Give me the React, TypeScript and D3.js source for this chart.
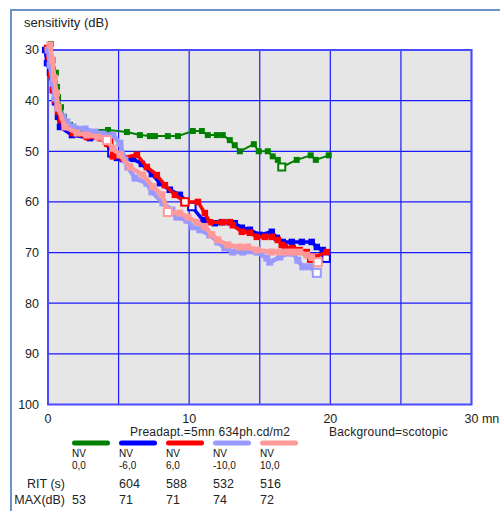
import * as d3 from 'd3';

// [minutes, dB, hollow]
type Pt = [number, number, number];

const greenPts: Pt[] = [
  [0.2, 28.8, 0], [0.35, 32, 0], [0.56, 34.5, 0], [0.64, 37.3, 0], [0.71, 39.3, 0], [0.92, 41.3, 0],
  [1.13, 43.2, 0], [1.56, 44.8, 0], [2.26, 45.8, 0], [4.25, 45.8, 0], [5.59, 46.2, 0], [6.51, 46.8, 0],
  [7.22, 47, 0], [7.57, 47, 0], [8.49, 47, 0], [9.2, 47, 0], [10.26, 46, 0], [10.9, 46, 0],
  [11.32, 46.8, 0], [11.96, 46.8, 0], [12.38, 46.8, 0], [12.88, 47.8, 0], [13.23, 48.8, 0], [13.59, 50, 0],
  [14.58, 48.6, 0], [14.93, 50, 0], [15.57, 50, 0], [15.92, 51, 0], [16.28, 51.7, 0], [16.56, 53.1, 1],
  [17.62, 51.7, 0], [18.61, 50.8, 0], [18.97, 51.7, 0], [19.89, 50.8, 0],
];

const bluePts: Pt[] = [
  [-0.2, 30, 0], [-0.07, 32.6, 0], [0.14, 34.5, 0], [0.35, 37.9, 0], [0.5, 40.3, 0], [0.71, 43.2, 0],
  [0.85, 45.2, 0], [1.7, 46.8, 0], [2.97, 47.4, 0], [3.89, 47.4, 0], [4.53, 50.3, 1], [4.88, 51.3, 0],
  [5.31, 51.5, 0], [6.02, 51.5, 0], [6.65, 52.5, 0], [7.36, 54.5, 0], [7.93, 56.3, 0], [8.63, 57.6, 0],
  [9.34, 58.6, 0], [10.19, 60.9, 1], [10.97, 63.6, 0], [11.82, 64.2, 0], [12.31, 64, 0], [12.88, 64, 0],
  [13.23, 64.2, 0], [13.73, 65.1, 0], [14.3, 65.5, 0], [15.0, 66.5, 0], [15.85, 65.9, 0], [16.21, 67.1, 0],
  [16.63, 67.9, 0], [17.27, 67.9, 0], [17.98, 67.9, 0], [18.68, 67.9, 0], [19.04, 68.9, 0], [19.46, 69.5, 0],
  [19.7, 71.1, 1],
];

const redPts: Pt[] = [
  [-0.07, 29.6, 0], [0.07, 31.4, 0], [0.21, 34.9, 0], [0.35, 37.9, 0], [0.5, 39.9, 0], [0.71, 42.2, 0],
  [0.92, 43.8, 0], [1.13, 44.6, 0], [1.77, 46.4, 0], [2.76, 47.2, 0], [3.68, 47.4, 0], [4.3, 48.2, 1],
  [4.6, 51, 0], [5.31, 51.3, 0], [6.3, 50.7, 0], [7.0, 53.1, 0], [7.71, 54.7, 0], [8.28, 56.7, 0],
  [8.99, 58.6, 0], [9.7, 60, 1], [10.62, 60, 0], [11.11, 62.2, 0], [11.46, 64, 0], [12.38, 64, 0],
  [12.88, 64, 0], [13.09, 64.6, 0], [13.73, 65.9, 0], [14.3, 66.1, 0], [14.79, 66.9, 0], [15.36, 66.9, 0],
  [15.85, 66.9, 0], [16.28, 67.5, 0], [16.56, 68.5, 0], [16.77, 68.9, 0], [17.34, 69.1, 0], [17.83, 69.5, 0],
  [18.33, 69.9, 0], [18.68, 71.1, 1], [19.75, 69.9, 0],
];

const lavenderPts: Pt[] = [
  [0, 30, 0], [0.14, 33, 0], [0.35, 36.5, 0], [0.5, 39.5, 0], [0.71, 41.5, 0], [1.06, 43.2, 0],
  [1.34, 44.2, 0], [1.77, 45.2, 0], [2.62, 45.6, 0], [3.33, 46.2, 0], [3.89, 46.6, 0], [4.6, 46.8, 0],
  [5.1, 48.4, 0], [5.45, 51.7, 0], [5.66, 53.1, 0], [6.16, 55.3, 0], [7.0, 56.3, 0], [7.36, 58.0, 0],
  [8.14, 60.2, 0], [8.78, 61.6, 0], [9.13, 63, 0], [9.84, 63.6, 0], [10.26, 64.9, 0], [10.76, 65.5, 0],
  [11.46, 66.5, 0], [12.03, 67.9, 0], [12.53, 69.1, 0], [13.09, 69.9, 0], [13.8, 69.9, 0], [14.79, 69.9, 0],
  [15.5, 71.1, 0], [15.71, 71.9, 0], [16.42, 70.9, 0], [16.99, 70.1, 0], [17.34, 70.1, 0], [17.69, 71.5, 0],
  [18.05, 72.8, 0], [18.54, 72.8, 0], [19.04, 74, 1],
];

const pinkPts: Pt[] = [
  [0.14, 29, 0], [0.3, 32, 0], [0.45, 35.5, 0], [0.6, 38.5, 0], [0.71, 41.3, 0], [1.2, 45.2, 0],
  [2.05, 46.4, 0], [2.76, 46.8, 0], [3.54, 47.2, 0], [4.18, 47.8, 1], [4.6, 49.4, 0], [5.1, 50.7, 0],
  [5.8, 53.1, 0], [6.72, 54.7, 0], [7.43, 57.0, 0], [8.07, 58.6, 0], [8.49, 62.0, 1], [9.34, 62.2, 0],
  [9.91, 63, 0], [10.54, 64, 0], [11.11, 64.9, 0], [11.61, 66.5, 0], [12.03, 67.5, 0], [12.74, 68.5, 0],
  [13.59, 68.9, 0], [14.15, 68.9, 0], [14.79, 69.5, 0], [15.85, 69.9, 0], [16.42, 69.9, 0], [16.91, 69.9, 0],
  [17.34, 69.9, 0], [17.83, 69.9, 0], [18.33, 70.5, 0], [18.68, 70.9, 0], [19.11, 71.9, 1],
];

const seriesNames = ['NV', 'NV', 'NV', 'NV', 'NV'];
const seriesShifts = ['0,0', '-6,0', '6,0', '-10,0', '10,0'];
const seriesColors = ['#008000', '#0000ff', '#ff0000', '#9999ff', '#ff9999'];
const ritValues = ['', '604', '588', '532', '516'];
const maxValues = ['53', '71', '71', '74', '72'];
const allSeries = [greenPts, bluePts, redPts, lavenderPts, pinkPts];

const yTicks = [30, 40, 50, 60, 70, 80, 90, 100];
const xGrid = [0, 5, 10, 15, 20, 25, 30];
const xTicks = [0, 10, 20, 30];

const font = '"Liberation Sans", Arial, sans-serif';

export default function App() {
  const x = d3.scaleLinear().domain([0, 30]).range([48, 471.5]);
  const y = d3.scaleLinear().domain([30, 100]).range([50, 404.5]);
  const line = d3.line<Pt>().x(d => x(d[0])).y(d => y(d[1]));

  const lineW = [2, 3.5, 3.5, 4.5, 4.5];
  const markW = [6, 6.5, 6.5, 7, 7];
  // draw order: green, blue, red, lavender, pink
  const order = [0, 1, 2, 3, 4];

  const legendX = (i: number) => 72 + i * 47;

  return (
    <svg width={500} height={511} style={{ position: 'absolute', left: 0, top: 0, background: '#fff' }}
      fontFamily={font}>
      <rect x={11} y={10} width={600} height={600} fill="none" stroke="#6a93cc" strokeWidth={2} />
      <text x={24} y={27} fontSize={13} fill="#222">sensitivity (dB)</text>

      {/* plot area */}
      <rect x={x(0)} y={y(30)} width={x(30) - x(0)} height={y(100) - y(30)} fill="#e6e6e6" />
      {yTicks.map(t => (
        <line key={'gy' + t} x1={x(0)} x2={x(30)} y1={y(t)} y2={y(t)} stroke="#1a1aff" strokeWidth={1.2} />
      ))}
      {xGrid.map(t => (
        <line key={'gx' + t} x1={x(t)} x2={x(t)} y1={y(30)} y2={y(100)} stroke="#1a1aff" strokeWidth={1.2} />
      ))}
      <rect x={x(0)} y={y(30)} width={x(30) - x(0)} height={y(100) - y(30)} fill="none"
        stroke="#4a4aff" strokeWidth={2} />

      {yTicks.map(t => (
        <text key={'ty' + t} x={39} y={y(t)} dy="0.35em" textAnchor="end" fontSize={12.5} fill="#222">{t}</text>
      ))}
      {xTicks.map(t => (
        t === 30
          ? <text key={'tx' + t} x={x(t) - 7} y={423} fontSize={12.5} fill="#222">30 mn</text>
          : <text key={'tx' + t} x={x(t)} y={423} textAnchor="middle" fontSize={12.5} fill="#222">{t}</text>
      ))}

      {/* series */}
      {order.map(i => {
        const pts = allSeries[i];
        const c = seriesColors[i];
        const m = markW[i];
        return (
          <g key={'s' + i}>
            <path d={line(pts) || ''} fill="none" stroke={c} strokeWidth={lineW[i]} strokeLinejoin="round" />
            {pts.map((p, j) => p[2] ? (
              <rect key={j} x={x(p[0]) - m / 2 - 0.5} y={y(p[1]) - m / 2 - 0.5} width={m + 1} height={m + 1}
                fill="#fff" stroke={c} strokeWidth={2} />
            ) : (
              <rect key={j} x={x(p[0]) - m / 2} y={y(p[1]) - m / 2} width={m} height={m} fill={c} />
            ))}
          </g>
        );
      })}

      <text x={130} y={436} fontSize={12} letterSpacing={0.2} fill="#222">Preadapt.=5mn 634ph.cd/m2</text>
      <text x={329} y={436} fontSize={12} letterSpacing={0.2} fill="#222">Background=scotopic</text>

      {/* legend */}
      {seriesColors.map((c, i) => (
        <g key={'lg' + i}>
          <line x1={legendX(i) + 2.5} x2={legendX(i) + 35.5} y1={443} y2={443} stroke={c} strokeWidth={5}
            strokeLinecap="round" />
          <text x={legendX(i)} y={457} fontSize={10} fill="#111">{seriesNames[i]}</text>
          <text x={legendX(i)} y={469} fontSize={10} fill="#111">{seriesShifts[i]}</text>
          <text x={legendX(i)} y={488} fontSize={12.5} fill="#222">{ritValues[i]}</text>
          <text x={legendX(i)} y={504} fontSize={12.5} fill="#222">{maxValues[i]}</text>
        </g>
      ))}
      <text x={65} y={488} textAnchor="end" fontSize={12.5} fill="#222">RIT (s)</text>
      <text x={65} y={504} textAnchor="end" fontSize={12.5} fill="#222">MAX(dB)</text>
    </svg>
  );
}
